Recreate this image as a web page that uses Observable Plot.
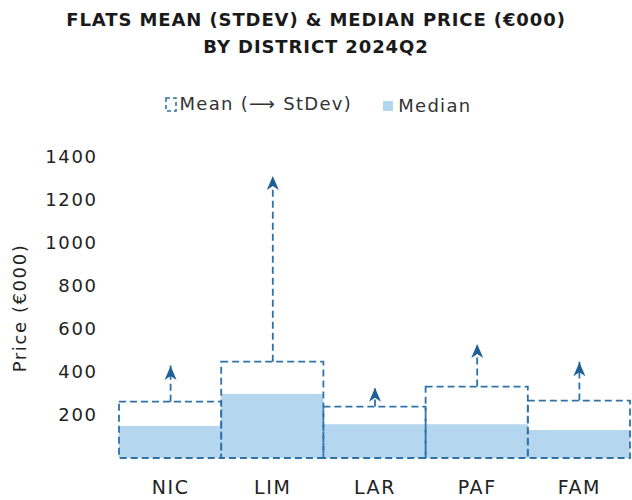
<!DOCTYPE html>
<html>
<head>
<meta charset="utf-8">
<script src="https://cdn.jsdelivr.net/npm/d3@7"></script>
<script src="https://cdn.jsdelivr.net/npm/@observablehq/plot@0.6"></script>
<style>
  body { margin: 0; background: #fff; font-family: "DejaVu Sans", sans-serif; }
  #wrap { position: relative; width: 632px; height: 500px; }
  #title { position: absolute; top: 6px; left: 0; width: 632px; text-align: center;
    font-weight: bold; font-size: 18px; letter-spacing: 0.9px; line-height: 27px; color: #1a1a1a; }
  #legend { position: absolute; top: 93px; left: 2px; width: 632px; text-align: center;
    font-size: 18px; letter-spacing: 1.3px; line-height: 22px; color: #333; white-space: nowrap; }
  #legend span.item { display: inline-flex; align-items: center; margin: 0 12px; }
  #legend svg { margin-right: 3px; }
  #chart { position: absolute; top: 125px; left: 0; }
  #chart svg text { letter-spacing: 1.6px; }
</style>
</head>
<body>
<div id="wrap">
  <div id="title">FLATS MEAN (STDEV) &amp; MEDIAN PRICE (€000)<br>BY DISTRICT 2024Q2</div>
  <div id="legend">
    <span class="item"><svg width="12" height="15"><rect x="1" y="1" width="10" height="13" fill="none" stroke="#2f72a8" stroke-width="1.6" stroke-dasharray="4,3"/></svg>Mean (⟶ StDev)</span>
    <span class="item"><svg width="12" height="12"><rect x="0" y="1" width="10" height="10" fill="#b4d6ee"/></svg>Median</span>
  </div>
  <div id="chart"></div>
</div>
<script>
const districts = ["NIC", "LIM", "LAR", "PAF", "FAM"];
const means = [262, 448, 239, 332, 267];
const medians = [149, 298, 157, 157, 130];
const stdevs = [168, 866, 90, 201, 181];
const yTicks = [200, 400, 600, 800, 1000, 1200, 1400];

const data = districts.map((d, i) => ({
  district: d, i, mean: means[i], median: medians[i], stdev: stdevs[i]
}));

const head = {
  draw(ctx) {
    ctx.moveTo(0, 0);
    ctx.lineTo(6, 14);
    ctx.lineTo(0, 10);
    ctx.lineTo(-6, 14);
    ctx.closePath();
  }
};

const stroke = "#2f72a8";
const chart = Plot.plot({
  width: 632,
  height: 375,
  marginLeft: 119,
  marginRight: 2,
  marginTop: 32,
  marginBottom: 42,
  style: { fontFamily: "DejaVu Sans, sans-serif", fontSize: "18px", color: "#222" },
  x: { domain: [0, districts.length] },
  y: { domain: [0, 1400] },
  marks: [
    Plot.rectY(data, { x1: d => d.i, x2: d => d.i + 1, y1: 0, y2: "median", fill: "#b4d6ee" }),
    Plot.rectY(data, { x1: d => d.i, x2: d => d.i + 1, y1: 0, y2: "mean", fill: "none",
      stroke, strokeWidth: 1.8, strokeDasharray: "7,4" }),
    Plot.ruleX(data, { x: d => d.i + 0.5, y1: "mean", y2: d => d.mean + d.stdev,
      stroke, strokeWidth: 1.8, strokeDasharray: "7,4" }),
    Plot.dot(data, { x: d => d.i + 0.5, y: d => d.mean + d.stdev, symbol: head,
      fill: "#1f5f96", stroke: "none" }),
    Plot.axisY({ ticks: yTicks, tickFormat: d => String(d), tickSize: 0, tickPadding: 22,
      label: "Price (€000)", labelAnchor: "center", labelOffset: 106, labelArrow: "none" }),
    Plot.axisX({ ticks: districts.map((d, i) => i + 0.5), tickFormat: v => districts[Math.round(v - 0.5)],
      tickSize: 0, tickPadding: 22, fontSize: 19, label: null })
  ]
});
document.getElementById("chart").appendChild(chart);
</script>
</body>
</html>
